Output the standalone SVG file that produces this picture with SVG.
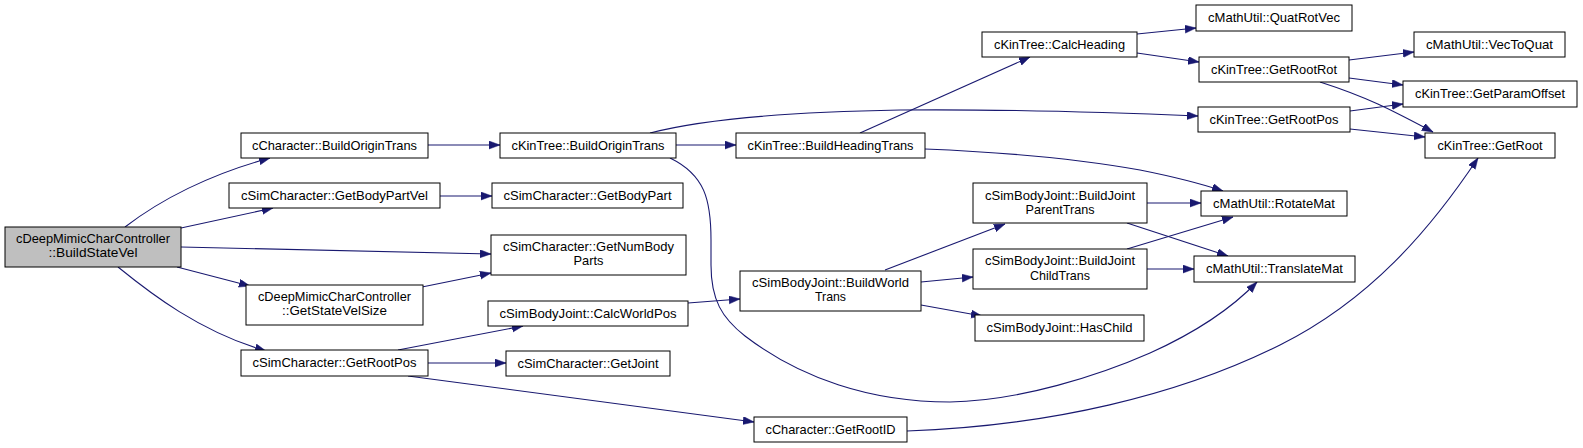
<svg xmlns="http://www.w3.org/2000/svg" width="1583" height="448" viewBox="0 0 1583 448">
<style>
.n rect{fill:#ffffff;stroke:#000000;stroke-width:1}
.n.root rect{fill:#bfbfbf}
.n text{font-family:"Liberation Sans",Arial,sans-serif;font-size:12.8px;fill:#000000;text-anchor:middle}
.e path{fill:none;stroke:#191970;stroke-width:1.1}
</style>
<defs>
<marker id="ah" markerUnits="userSpaceOnUse" markerWidth="12" markerHeight="10" refX="11" refY="4" orient="auto">
<path d="M0,0 L11,4 L0,8 z" fill="#191970" stroke="#191970" stroke-width="0.5"/>
</marker>
</defs>
<rect width="1583" height="448" fill="#ffffff"/>
<g id="edges" class="e">
<path marker-end="url(#ah)" d="M125,227 C160,200 210,174 270,158"/>
<path marker-end="url(#ah)" d="M181,228 L273,208"/>
<path marker-end="url(#ah)" d="M181,247 L491,254"/>
<path marker-end="url(#ah)" d="M177,267 L250,286"/>
<path marker-end="url(#ah)" d="M118,267 C150,293 200,332 266,351"/>
<path marker-end="url(#ah)" d="M428,145 L500,145"/>
<path marker-end="url(#ah)" d="M440,196 L492,196"/>
<path marker-end="url(#ah)" d="M422,287 L491,273"/>
<path marker-end="url(#ah)" d="M398,350 L523,326"/>
<path marker-end="url(#ah)" d="M428,363 L506,363"/>
<path marker-end="url(#ah)" d="M408,376 L754,422"/>
<path marker-end="url(#ah)" d="M676,145 L736,145"/>
<path marker-end="url(#ah)" d="M650,133 C700,120 780,112 900,110 C1000,109 1100,112 1198,116"/>
<path marker-end="url(#ah)" d="M670,158 C705,175 711,200 711,240 L711,265 C711,300 722,318 745,336 C800,378 870,402 950,402 C1020,401 1100,375 1150,353 C1190,335 1230,310 1257,282"/>
<path marker-end="url(#ah)" d="M860,133 L1030,57"/>
<path marker-end="url(#ah)" d="M925,149 C1000,152 1073,158 1140,170 C1180,178 1205,185 1223,191"/>
<path marker-end="url(#ah)" d="M1137,34 L1196,28"/>
<path marker-end="url(#ah)" d="M1137,53 L1199,62"/>
<path marker-end="url(#ah)" d="M1349,60 L1414,52"/>
<path marker-end="url(#ah)" d="M1349,78 L1403,85"/>
<path marker-end="url(#ah)" d="M1320,82 C1370,98 1395,112 1433,132"/>
<path marker-end="url(#ah)" d="M1350,111 L1403,104"/>
<path marker-end="url(#ah)" d="M1350,129 L1425,137"/>
<path marker-end="url(#ah)" d="M907,431 C1050,426 1180,395 1280,345 C1370,300 1430,230 1478,158"/>
<path marker-end="url(#ah)" d="M688,303 L740,299"/>
<path marker-end="url(#ah)" d="M885,270 L1005,224"/>
<path marker-end="url(#ah)" d="M921,282 L973,277"/>
<path marker-end="url(#ah)" d="M921,305 L982,316"/>
<path marker-end="url(#ah)" d="M1147,203 L1201,203"/>
<path marker-end="url(#ah)" d="M1127,223 L1228,256"/>
<path marker-end="url(#ah)" d="M1127,249 L1233,217"/>
<path marker-end="url(#ah)" d="M1147,269 L1194,269"/>
</g>
<g id="n_BuildStateVel" class="n root"><rect x="5" y="227" width="176" height="40"/><text x="93" y="243" textLength="154" lengthAdjust="spacingAndGlyphs">cDeepMimicCharController</text><text x="93" y="257" textLength="89" lengthAdjust="spacingAndGlyphs">::BuildStateVel</text></g>
<g id="n_cCharacter_BuildOriginTrans" class="n"><rect x="241" y="133" width="187" height="25"/><text x="334.5" y="150" textLength="165" lengthAdjust="spacingAndGlyphs">cCharacter::BuildOriginTrans</text></g>
<g id="n_GetBodyPartVel" class="n"><rect x="229" y="183" width="211" height="25"/><text x="334.5" y="200" textLength="187" lengthAdjust="spacingAndGlyphs">cSimCharacter::GetBodyPartVel</text></g>
<g id="n_GetStateVelSize" class="n"><rect x="246" y="285" width="177" height="40"/><text x="334.5" y="301" textLength="153" lengthAdjust="spacingAndGlyphs">cDeepMimicCharController</text><text x="334.5" y="315" textLength="105" lengthAdjust="spacingAndGlyphs">::GetStateVelSize</text></g>
<g id="n_sim_GetRootPos" class="n"><rect x="241" y="350" width="187" height="26"/><text x="334.5" y="367" textLength="164" lengthAdjust="spacingAndGlyphs">cSimCharacter::GetRootPos</text></g>
<g id="n_kin_BuildOriginTrans" class="n"><rect x="500" y="133" width="176" height="25"/><text x="588" y="150" textLength="153" lengthAdjust="spacingAndGlyphs">cKinTree::BuildOriginTrans</text></g>
<g id="n_GetBodyPart" class="n"><rect x="492" y="183" width="191" height="25"/><text x="587.5" y="200" textLength="168" lengthAdjust="spacingAndGlyphs">cSimCharacter::GetBodyPart</text></g>
<g id="n_GetNumBodyParts" class="n"><rect x="491" y="235" width="195" height="40"/><text x="588.5" y="251" textLength="171" lengthAdjust="spacingAndGlyphs">cSimCharacter::GetNumBody</text><text x="588.5" y="265" textLength="30" lengthAdjust="spacingAndGlyphs">Parts</text></g>
<g id="n_CalcWorldPos" class="n"><rect x="488" y="301" width="200" height="25"/><text x="588" y="318" textLength="177" lengthAdjust="spacingAndGlyphs">cSimBodyJoint::CalcWorldPos</text></g>
<g id="n_GetJoint" class="n"><rect x="506" y="351" width="164" height="25"/><text x="588" y="368" textLength="141" lengthAdjust="spacingAndGlyphs">cSimCharacter::GetJoint</text></g>
<g id="n_BuildHeadingTrans" class="n"><rect x="736" y="133" width="189" height="25"/><text x="830.5" y="150" textLength="166" lengthAdjust="spacingAndGlyphs">cKinTree::BuildHeadingTrans</text></g>
<g id="n_BuildWorldTrans" class="n"><rect x="740" y="271" width="181" height="40"/><text x="830.5" y="287" textLength="157" lengthAdjust="spacingAndGlyphs">cSimBodyJoint::BuildWorld</text><text x="830.5" y="301" textLength="31" lengthAdjust="spacingAndGlyphs">Trans</text></g>
<g id="n_GetRootID" class="n"><rect x="754" y="417" width="153" height="25"/><text x="830.5" y="434" textLength="130" lengthAdjust="spacingAndGlyphs">cCharacter::GetRootID</text></g>
<g id="n_CalcHeading" class="n"><rect x="982" y="32" width="155" height="25"/><text x="1059.5" y="49" textLength="131" lengthAdjust="spacingAndGlyphs">cKinTree::CalcHeading</text></g>
<g id="n_BuildJointParentTrans" class="n"><rect x="973" y="183" width="174" height="40"/><text x="1060" y="200" textLength="150" lengthAdjust="spacingAndGlyphs">cSimBodyJoint::BuildJoint</text><text x="1060" y="214" textLength="69" lengthAdjust="spacingAndGlyphs">ParentTrans</text></g>
<g id="n_BuildJointChildTrans" class="n"><rect x="973" y="249" width="174" height="40"/><text x="1060" y="265" textLength="150" lengthAdjust="spacingAndGlyphs">cSimBodyJoint::BuildJoint</text><text x="1060" y="280" textLength="60" lengthAdjust="spacingAndGlyphs">ChildTrans</text></g>
<g id="n_HasChild" class="n"><rect x="975" y="315" width="169" height="26"/><text x="1059.5" y="332" textLength="146" lengthAdjust="spacingAndGlyphs">cSimBodyJoint::HasChild</text></g>
<g id="n_QuatRotVec" class="n"><rect x="1196" y="5" width="156" height="26"/><text x="1274" y="22" textLength="132" lengthAdjust="spacingAndGlyphs">cMathUtil::QuatRotVec</text></g>
<g id="n_GetRootRot" class="n"><rect x="1199" y="57" width="150" height="25"/><text x="1274" y="74" textLength="126" lengthAdjust="spacingAndGlyphs">cKinTree::GetRootRot</text></g>
<g id="n_kin_GetRootPos" class="n"><rect x="1198" y="107" width="152" height="25"/><text x="1274" y="124" textLength="129" lengthAdjust="spacingAndGlyphs">cKinTree::GetRootPos</text></g>
<g id="n_RotateMat" class="n"><rect x="1201" y="191" width="146" height="25"/><text x="1274" y="208" textLength="122" lengthAdjust="spacingAndGlyphs">cMathUtil::RotateMat</text></g>
<g id="n_TranslateMat" class="n"><rect x="1194" y="256" width="161" height="26"/><text x="1274.5" y="273" textLength="137" lengthAdjust="spacingAndGlyphs">cMathUtil::TranslateMat</text></g>
<g id="n_VecToQuat" class="n"><rect x="1414" y="32" width="151" height="25"/><text x="1489.5" y="49" textLength="127" lengthAdjust="spacingAndGlyphs">cMathUtil::VecToQuat</text></g>
<g id="n_GetParamOffset" class="n"><rect x="1403" y="81" width="174" height="26"/><text x="1490" y="98" textLength="150" lengthAdjust="spacingAndGlyphs">cKinTree::GetParamOffset</text></g>
<g id="n_GetRoot" class="n"><rect x="1425" y="133" width="130" height="25"/><text x="1490" y="150" textLength="105" lengthAdjust="spacingAndGlyphs">cKinTree::GetRoot</text></g>
</svg>
